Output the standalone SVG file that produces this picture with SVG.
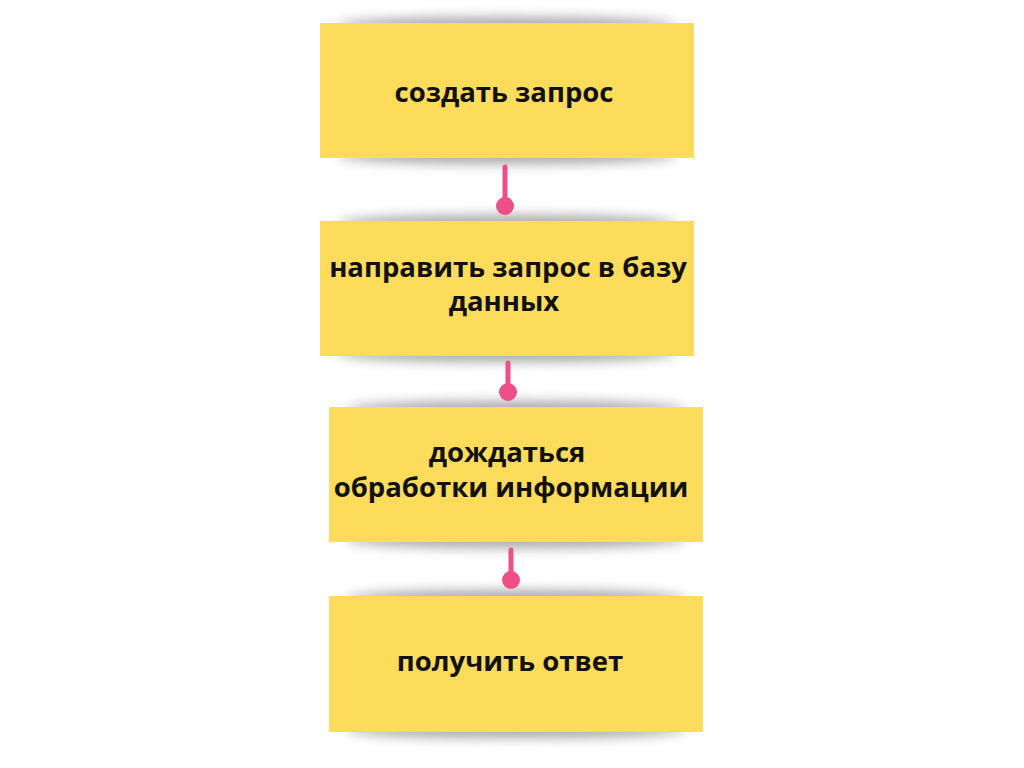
<svg xmlns="http://www.w3.org/2000/svg" width="1024" height="768" viewBox="0 0 1024 768">
<defs>
<filter id="blur" x="-20%" y="-200%" width="140%" height="500%"><feGaussianBlur stdDeviation="6"/></filter>
</defs>
<style>
.box{fill:#FDDC5C}
.sh{fill:#8a8a8a;opacity:0.75;filter:url(#blur)}
.t{font-family:"Open Sans","DejaVu Sans",sans-serif;font-weight:700;font-size:27.5px;fill:#111;text-anchor:middle}
.ln{stroke:#EE4F88;stroke-width:5;stroke-linecap:round}
.dot{fill:#EE4F88}
</style>
<rect width="1024" height="768" fill="#fff"/>
<g id="n1">
<ellipse class="sh" cx="507" cy="25" rx="170" ry="8"/>
<ellipse class="sh" cx="507" cy="156" rx="170" ry="8"/>
<rect class="box" x="320" y="23" width="374" height="135"/>
<text class="t" x="504" y="102">создать запрос</text>
</g>
<g id="n2">
<ellipse class="sh" cx="507" cy="223" rx="170" ry="8"/>
<ellipse class="sh" cx="507" cy="354" rx="170" ry="8"/>
<rect class="box" x="320" y="221" width="374" height="135"/>
<text class="t" x="508" y="277">направить запрос в базу</text>
<text class="t" x="504" y="311">данных</text>
</g>
<g id="n3">
<ellipse class="sh" cx="516" cy="409" rx="170" ry="8"/>
<ellipse class="sh" cx="516" cy="540" rx="170" ry="8"/>
<rect class="box" x="329" y="407" width="374" height="135"/>
<text class="t" x="507" y="462">дождаться</text>
<text class="t" x="511" y="497">обработки информации</text>
</g>
<g id="n4">
<ellipse class="sh" cx="516" cy="598" rx="170" ry="8"/>
<ellipse class="sh" cx="516" cy="730" rx="170" ry="8"/>
<rect class="box" x="329" y="596" width="374" height="136"/>
<text class="t" x="510" y="671">получить ответ</text>
</g>
<g id="connectors">
<line class="ln" x1="505" y1="167" x2="505" y2="203"/>
<circle class="dot" cx="505" cy="206" r="9"/>
<line class="ln" x1="508" y1="363" x2="508" y2="390"/>
<circle class="dot" cx="508" cy="392" r="9"/>
<line class="ln" x1="511" y1="550" x2="511" y2="578"/>
<circle class="dot" cx="511" cy="580" r="9"/>
</g>
</svg>
